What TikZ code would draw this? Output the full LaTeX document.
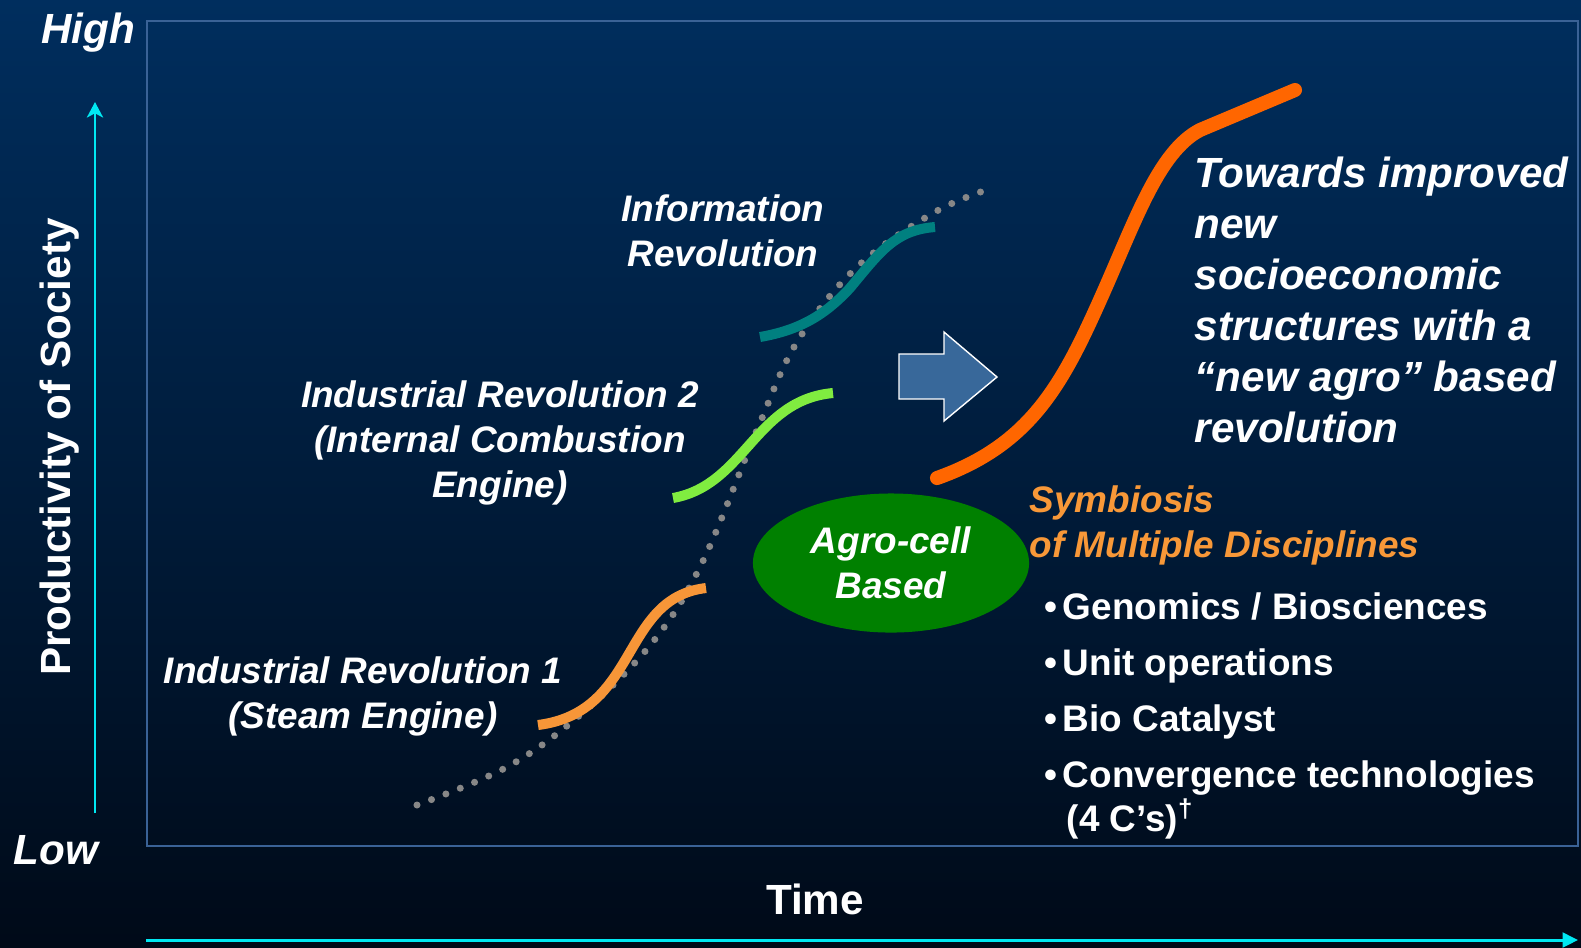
\documentclass[tikz,border=0pt]{standalone}
\usepackage{fontspec}
\setmainfont{Liberation Sans}
\usetikzlibrary{shapes.geometric,arrows.meta}
\definecolor{bgtop}{RGB}{0,46,94}
\definecolor{bgmid}{RGB}{0,32,68}
\definecolor{bgbot}{RGB}{0,10,24}
\definecolor{framecol}{RGB}{58,98,150}
\definecolor{axiscol}{RGB}{0,232,242}
\definecolor{irone}{RGB}{247,150,56}
\definecolor{irtwo}{RGB}{128,236,64}
\definecolor{infocol}{RGB}{0,128,128}
\definecolor{agrocol}{RGB}{255,102,0}
\definecolor{cellcol}{RGB}{0,128,0}
\definecolor{symbcol}{RGB}{248,152,56}
\definecolor{blockcol}{RGB}{56,104,154}
\definecolor{dotcol}{RGB}{135,135,135}
\tikzset{
  lbl/.style={text=white, font=\fontsize{10.5}{12.8}\selectfont\bfseries\itshape, align=center, inner sep=0pt},
  bigtxt/.style={text=white, font=\fontsize{12}{14.5}\selectfont\bfseries\itshape, align=left, inner sep=0pt, anchor=north west},
  axlbl/.style={text=white, font=\fontsize{12}{14}\selectfont\bfseries, inner sep=0pt},
  item/.style={text=white, font=\fontsize{10.5}{12.5}\selectfont\bfseries, align=left, inner sep=0pt, anchor=base west},
  wave/.style={line width=2.85pt},
  axis/.style={axiscol, line width=0.85pt}
}

\begin{document}
\begin{tikzpicture}[x=0.01cm, y=-0.01cm]
    \shade[top color=bgtop, middle color=bgmid, bottom color=bgbot] (0,0) rectangle (1581,947);
    \useasboundingbox (0,0) rectangle (1581,947);

    % frame and axes
    \draw[framecol, line width=0.6pt] (147,21) rectangle (1578,846);
    \coordinate (ybot) at (95,813);
    \coordinate (ytop) at (95,102);
    \coordinate (xleft) at (146,940);
    \coordinate (xright) at (1578,940);
    \draw[axis, -{Stealth[length=4.4pt, width=4.6pt, inset=1.2pt]}] (ybot) -- (ytop);
    \draw[axis, -{Triangle[length=4.4pt, width=4.2pt]}] (xleft) -- (xright);

    \node[axlbl, font=\fontsize{12}{14}\selectfont\bfseries\itshape] (High) at (88,33) {High};
    \node[axlbl, font=\fontsize{12}{14}\selectfont\bfseries\itshape] (Low) at (56,850) {Low};
    \node[axlbl, rotate=90] (Prod) at (60,447) {Productivity of Society};
    \node[axlbl] (Time) at (815,899) {Time};

    % dotted trend
    \draw[dotcol, line width=2pt, line cap=round, dash pattern=on 0pt off 4.4pt]
        plot[smooth, tension=0.6] coordinates {(417,805) (507,767) (580,715) (652,643) (702,563) (757,430) (797,342) (857,267) (935,212) (995,187)};

    % revolutions
    \draw[wave, irone] (538,725) .. controls (640,712) and (620,598) .. (706,588);
    \draw[wave, irtwo] (673,498) .. controls (745,485) and (755,400) .. (833,393);
    \draw[wave, infocol] (760,337) .. controls (800,330) and (825,315) .. (850,288)
        .. controls (880,252) and (895,230) .. (935,227);
    \draw[agrocol, line width=4pt, line cap=round, line join=round]
        (937,478) .. controls (1030,445) and (1062,385) .. (1100,300)
        .. controls (1135,222) and (1158,152) .. (1200,130) -- (1295,90);

    \node[lbl] (IR1) at (363,696) {Industrial Revolution 1\\(Steam Engine)};
    \node[lbl] (IR2) at (500,443) {Industrial Revolution 2\\(Internal Combustion\\Engine)};
    \node[lbl] (Info) at (723,231) {Information\\Revolution};

    % block arrow
    \filldraw[fill=blockcol, draw=white, line width=0.4pt]
        (899,354) -- (944,354) -- (944,332) -- (997,377) -- (944,421) -- (944,399) -- (899,399) -- cycle;

    \node[ellipse, fill=cellcol, minimum width=2.76cm, minimum height=1.39cm, lbl] (Agro) at (891,563) {Agro-cell\\Based};

    \node[bigtxt] (Towards) at (1194,156) {Towards improved\\new\\socioeconomic\\structures with a\\“new agro” based\\revolution};

    \node[lbl, text=symbcol, align=left, anchor=north west] (Symb) at (1029,485) {Symbiosis\\of Multiple Disciplines};

    \node[item] (B1) at (1044,619) {•\hspace{1.5pt}Genomics / Biosciences};
    \node[item] (B2) at (1044,675) {•\hspace{1.5pt}Unit operations};
    \node[item] (B3) at (1044,731) {•\hspace{1.5pt}Bio Catalyst};
    \node[item] (B4) at (1044,787) {•\hspace{1.5pt}Convergence technologies};
    \node[item] (B5) at (1066,831) {(4 C’s)\textsuperscript{†}};
\end{tikzpicture}
\end{document}
